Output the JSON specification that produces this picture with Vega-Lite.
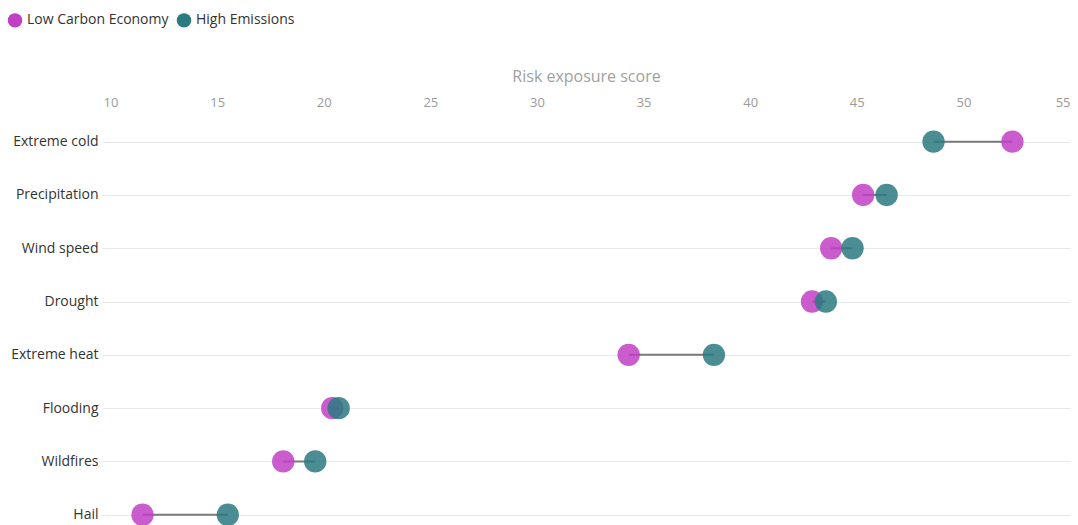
{
  "$schema": "https://vega.github.io/schema/vega-lite/v6.json",
  "autosize": {"type": "none"},
  "padding": {"left": 102, "top": 115, "right": 8, "bottom": 0},
  "width": 968,
  "height": 426.4,
  "background": "white",
  "config": {
    "view": {"stroke": null},
    "font": "Open Sans"
  },
  "data": {
    "values": [
      {"hazard": "Extreme cold", "series": "Low Carbon Economy", "score": 52.3},
      {"hazard": "Extreme cold", "series": "High Emissions", "score": 48.6},
      {"hazard": "Precipitation", "series": "Low Carbon Economy", "score": 45.3},
      {"hazard": "Precipitation", "series": "High Emissions", "score": 46.4},
      {"hazard": "Wind speed", "series": "Low Carbon Economy", "score": 43.8},
      {"hazard": "Wind speed", "series": "High Emissions", "score": 44.8},
      {"hazard": "Drought", "series": "Low Carbon Economy", "score": 42.9},
      {"hazard": "Drought", "series": "High Emissions", "score": 43.55},
      {"hazard": "Extreme heat", "series": "Low Carbon Economy", "score": 34.3},
      {"hazard": "Extreme heat", "series": "High Emissions", "score": 38.3},
      {"hazard": "Flooding", "series": "Low Carbon Economy", "score": 20.4},
      {"hazard": "Flooding", "series": "High Emissions", "score": 20.7},
      {"hazard": "Wildfires", "series": "Low Carbon Economy", "score": 18.1},
      {"hazard": "Wildfires", "series": "High Emissions", "score": 19.6},
      {"hazard": "Hail", "series": "Low Carbon Economy", "score": 11.5},
      {"hazard": "Hail", "series": "High Emissions", "score": 15.5}
    ]
  },
  "encoding": {
    "y": {
      "field": "hazard",
      "type": "nominal",
      "sort": ["Extreme cold", "Precipitation", "Wind speed", "Drought", "Extreme heat", "Flooding", "Wildfires", "Hail"],
      "scale": {"type": "point", "padding": 0.5},
      "axis": {
        "title": null,
        "domain": false,
        "ticks": false,
        "grid": true,
        "gridColor": "#e8e8e8",
        "gridWidth": 1,
        "labelColor": "#333333",
        "labelFontSize": 14,
        "labelPadding": 4
      }
    },
    "x": {
      "field": "score",
      "type": "quantitative",
      "scale": {"domain": [9.6, 55], "nice": false, "zero": false},
      "axis": {
        "orient": "top",
        "title": "Risk exposure score",
        "titleColor": "#a0a0a0",
        "titleFontSize": 16,
        "titleFontWeight": "normal",
        "titlePadding": 12,
        "values": [10, 15, 20, 25, 30, 35, 40, 45, 50, 55],
        "grid": false,
        "domain": false,
        "ticks": false,
        "labelColor": "#9a9a9a",
        "labelFontSize": 13,
        "labelPadding": 5
      }
    }
  },
  "layer": [
    {
      "mark": {"type": "line", "color": "#7a7a7a", "strokeWidth": 2},
      "encoding": {
        "detail": {"field": "hazard"},
        "order": {"field": "score"}
      }
    },
    {
      "mark": {"type": "circle", "size": 500, "opacity": 0.85},
      "encoding": {
        "color": {
          "field": "series",
          "type": "nominal",
          "scale": {
            "domain": ["Low Carbon Economy", "High Emissions"],
            "range": ["#c13fc6", "#2a7a80"]
          },
          "legend": {
            "title": null,
            "orient": "none",
            "direction": "horizontal",
            "legendX": -95,
            "legendY": -103,
            "symbolType": "circle",
            "symbolSize": 210,
            "symbolOpacity": 1,
            "labelFontSize": 14,
            "labelColor": "#333333",
            "labelOffset": 4,
            "columnPadding": 7
          }
        },
        "order": {"field": "series", "sort": "descending"}
      }
    }
  ]
}
